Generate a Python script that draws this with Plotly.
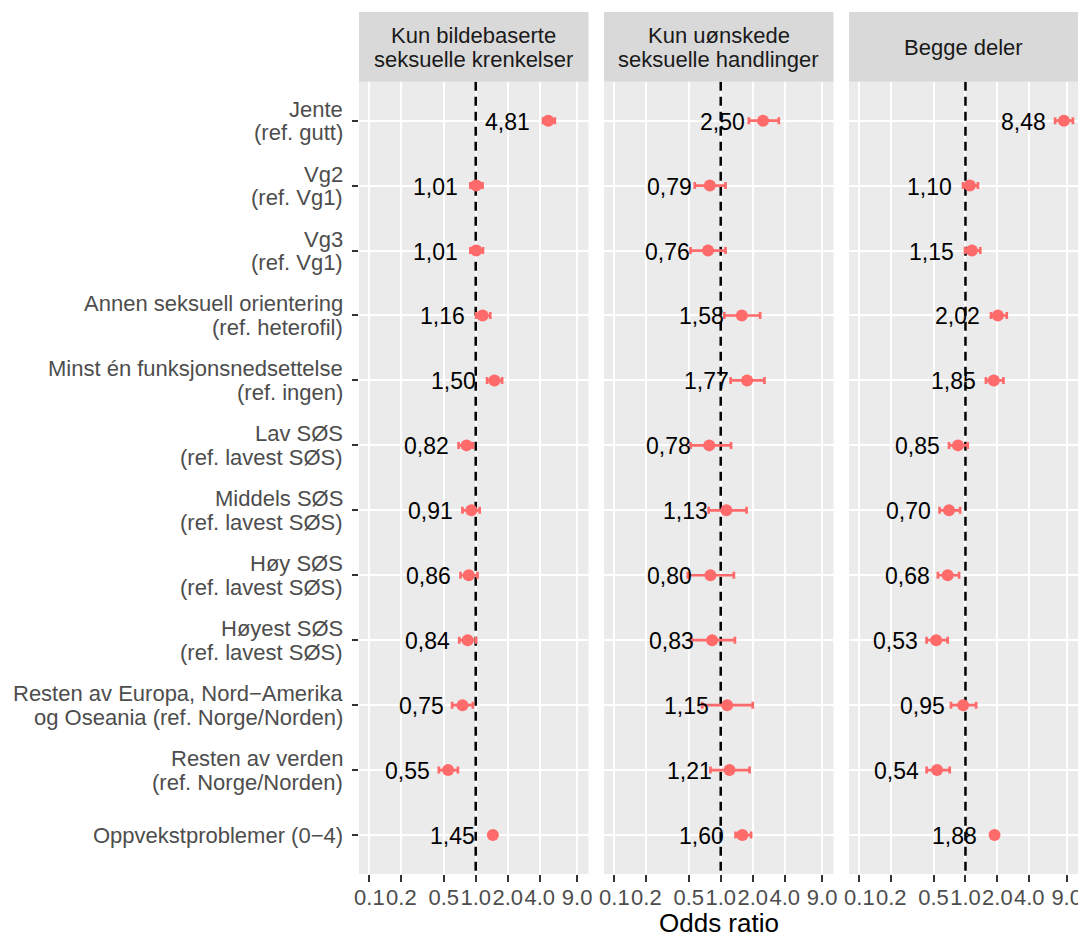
import numpy as np
import plotly.graph_objects as go

# ---------------- data ----------------
row_labels = [
    "Jente<br>(ref. gutt)",
    "Vg2<br>(ref. Vg1)",
    "Vg3<br>(ref. Vg1)",
    "Annen seksuell orientering<br>(ref. heterofil)",
    "Minst én funksjonsnedsettelse<br>(ref. ingen)",
    "Lav SØS<br>(ref. lavest SØS)",
    "Middels SØS<br>(ref. lavest SØS)",
    "Høy SØS<br>(ref. lavest SØS)",
    "Høyest SØS<br>(ref. lavest SØS)",
    "Resten av Europa, Nord−Amerika<br>og Oseania (ref. Norge/Norden)",
    "Resten av verden<br>(ref. Norge/Norden)",
    "Oppvekstproblemer (0−4)",
]

panel_titles = [
    "Kun bildebaserte<br>seksuelle krenkelser",
    "Kun uønskede<br>seksuelle handlinger",
    "Begge deler",
]

or_bilde = [4.81, 1.01, 1.01, 1.16, 1.50, 0.82, 0.91, 0.86, 0.84, 0.75, 0.55, 1.45]
lo_bilde = [4.30, 0.89, 0.89, 1.01, 1.28, 0.69, 0.75, 0.72, 0.70, 0.60, 0.45, 1.38]
hi_bilde = [5.55, 1.16, 1.17, 1.37, 1.77, 0.94, 1.09, 1.04, 1.01, 0.94, 0.68, 1.53]

or_handl = [2.50, 0.79, 0.76, 1.58, 1.77, 0.78, 1.13, 0.80, 0.83, 1.15, 1.21, 1.60]
lo_handl = [1.84, 0.57, 0.52, 1.08, 1.24, 0.52, 0.77, 0.49, 0.53, 0.67, 0.80, 1.38]
hi_handl = [3.52, 1.11, 1.11, 2.35, 2.58, 1.25, 1.75, 1.33, 1.36, 2.00, 1.87, 1.93]

or_begge = [8.48, 1.10, 1.15, 2.02, 1.85, 0.85, 0.70, 0.68, 0.53, 0.95, 0.54, 1.88]
lo_begge = [7.00, 0.95, 0.99, 1.74, 1.56, 0.70, 0.57, 0.55, 0.43, 0.73, 0.43, 1.80]
hi_begge = [10.3, 1.31, 1.38, 2.45, 2.28, 1.05, 0.89, 0.87, 0.68, 1.26, 0.71, 1.97]

ref_or = 1.0
x_tick_vals = [0.1, 0.2, 0.5, 1.0, 2.0, 4.0, 9.0]
x_tick_text = ["0.1", "0.2", "0.5", "1.0", "2.0", "4.0", "9.0"]
x_title = "Odds ratio"

panels = [
    (or_bilde, lo_bilde, hi_bilde),
    (or_handl, lo_handl, hi_handl),
    (or_begge, lo_begge, hi_begge),
]

# ---------------- layout geometry ----------------
# the page body has an 8px margin, so the figure is drawn 8px smaller and
# every page coordinate below is offset by OFF
OFF = 8
W, H = 1086 - OFF, 938 - OFF
ML, MR = 359 - OFF, 8
MT = 12 - OFF
MB = H - (874 - OFF)
PW = W - ML - MR
PH = H - MT - MB
panel_w, gap = 229.5, 15.5
strip_h = 69.7
y_top = 1 - strip_h / PH


def page_y_to_paper(py):
    return 1 - (py - OFF - MT) / PH


FONT = "Liberation Sans, Arial, Helvetica, sans-serif"
PT_COL = "#FF6A6A"
n = len(row_labels)
ypos = list(range(n))

fig = go.Figure()
layout = dict(
    template="none",
    width=W, height=H, autosize=False,
    margin=dict(l=ML, r=MR, t=MT, b=MB, pad=0),
    paper_bgcolor="white", plot_bgcolor="#EBEBEB",
    showlegend=False,
    font=dict(family=FONT, color="#1A1A1A"),
)
annotations = []
shapes = []

for k, (ors, los, his) in enumerate(panels):
    sfx = "" if k == 0 else str(k + 1)
    xa, ya = "x" + sfx, "y" + sfx
    d0 = k * (panel_w + gap) / PW
    d1 = min(1.0, (k * (panel_w + gap) + panel_w) / PW)

    # reference line at OR = 1 (drawn first so points sit on top)
    fig.add_trace(go.Scatter(
        x=[ref_or, ref_or], y=[-0.6, n - 0.4], mode="lines",
        xaxis=xa, yaxis=ya,
        line=dict(color="black", width=2.5, dash="9px,6px"),
        hoverinfo="skip",
    ))

    ors_a, los_a, his_a = np.array(ors), np.array(los), np.array(his)
    fig.add_trace(go.Scatter(
        x=ors, y=ypos, mode="markers", xaxis=xa, yaxis=ya,
        marker=dict(size=12, color=PT_COL),
        error_x=dict(type="data", symmetric=False,
                     array=list(his_a - ors_a), arrayminus=list(ors_a - los_a),
                     color=PT_COL, thickness=2.7, width=3.5),
        hoverinfo="skip",
    ))

    layout["xaxis" + sfx] = dict(
        domain=[d0, d1], anchor=ya, type="log",
        range=[-1.098, 1.061], automargin=False,
        tickmode="array", tickvals=x_tick_vals, ticktext=x_tick_text,
        tickangle=0, ticks="outside", ticklen=7, tickwidth=2, tickcolor="#333333",
        ticklabelstandoff=-3,
        tickfont=dict(size=22, color="#4D4D4D", family=FONT),
        showgrid=True, gridcolor="white", gridwidth=2,
        zeroline=False, showline=False, fixedrange=True,
    )
    ydict = dict(
        domain=[0, y_top], anchor=xa, type="linear",
        range=[n - 0.4, -0.6], automargin=False,
        tickmode="array", tickvals=ypos,
        showticklabels=False,
        showgrid=True, gridcolor="white", gridwidth=2,
        zeroline=False, showline=False, fixedrange=True,
    )
    if k == 0:
        ydict.update(ticks="outside", ticklen=6, tickwidth=2, tickcolor="#333333")
    else:
        ydict.update(ticks="")
    layout["yaxis" + sfx] = ydict

    # strip
    shapes.append(dict(
        type="rect", xref=xa + " domain", yref="paper",
        x0=0, x1=1, y0=y_top, y1=1,
        fillcolor="#D9D9D9", line=dict(width=0), layer="below",
    ))
    lines = panel_titles[k].split("<br>")
    centers = [47.0] if len(lines) == 1 else [35.3, 59.0]
    for txt, cy in zip(lines, centers):
        annotations.append(dict(
            xref=xa + " domain", yref="paper", x=0.5, y=page_y_to_paper(cy),
            text=txt, showarrow=False, xanchor="center", yanchor="middle",
            font=dict(size=22, color="#1A1A1A", family=FONT),
        ))

    # value labels
    for i, v in enumerate(ors):
        annotations.append(dict(
            xref=xa, yref=ya, x=float(np.log10(v)), y=ypos[i],
            text=f"{v:.2f}".replace(".", ","), showarrow=False,
            xanchor="right", yanchor="middle", xshift=-16, yshift=-1,
            font=dict(size=23, color="black", family=FONT),
        ))

# y-axis row labels (two lines each)
for i, lab in enumerate(row_labels):
    parts = lab.split("<br>")
    shifts = [0] if len(parts) == 1 else [11.5, -12.0]
    for txt, sh in zip(parts, shifts):
        annotations.append(dict(
            xref="paper", yref="y", x=0, y=ypos[i], text=txt, showarrow=False,
            xanchor="right", yanchor="middle", xshift=-14, yshift=sh,
            font=dict(size=22, color="#4D4D4D", family=FONT),
        ))

# x-axis title
annotations.append(dict(
    xref="paper", yref="paper", x=(719.5 / PW) / 2, y=page_y_to_paper(923.0),
    text=x_title, showarrow=False, xanchor="center", yanchor="middle",
    borderpad=0,
    font=dict(size=26, color="black", family=FONT),
))

layout["annotations"] = annotations
layout["shapes"] = shapes
fig.update_layout(**layout)
fig.write_html("out.html")
